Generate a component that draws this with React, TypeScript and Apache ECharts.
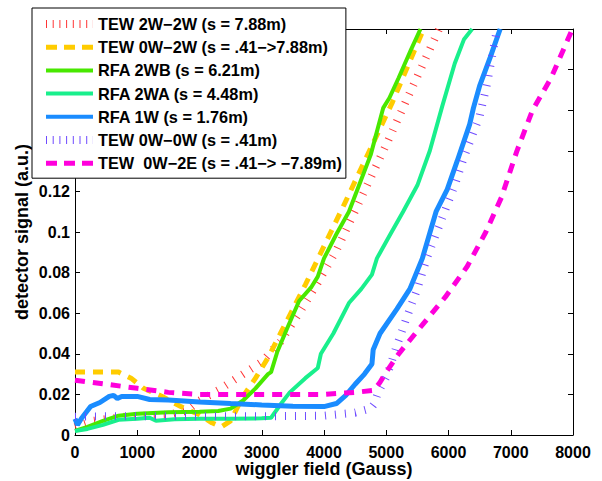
import React, { useEffect, useRef } from "react";
import * as echarts from "echarts";

const X_MIN = 0;
const X_MAX = 8000;
const X_STEP = 1000;
const Y_MIN = 0;
const Y_MAX = 0.2;
const Y_STEP = 0.02;

const xAxisTitle = "wiggler field (Gauss)";
const yAxisTitle = "detector signal (a.u.)";

const seriesNames = [
  "TEW 2W−2W (s = 7.88m)",
  "TEW 0W−2W (s = .41−>7.88m)",
  "RFA 2WB (s = 6.21m)",
  "RFA 2WA (s = 4.48m)",
  "RFA 1W (s = 1.76m)",
  "TEW 0W−0W (s = .41m)",
  "TEW  0W−2E (s = .41−> −7.89m)",
];

const tew2W2W = [
  [0, 0.004], [300, 0.007], [800, 0.009], [1500, 0.010], [1800, 0.012], [2000, 0.017],
  [2300, 0.022], [2700, 0.030], [3000, 0.036], [3300, 0.046], [3600, 0.060], [3900, 0.075],
  [4200, 0.091], [4600, 0.117], [5000, 0.143], [5400, 0.170], [5850, 0.2],
];

const tew0W2W = [
  [0, 0.031], [400, 0.031], [700, 0.031], [900, 0.028], [1100, 0.023], [1400, 0.019],
  [1700, 0.014], [2000, 0.010], [2200, 0.006], [2350, 0.004], [2500, 0.007], [2700, 0.019],
  [2900, 0.028], [3100, 0.038], [3300, 0.050], [3500, 0.062], [3700, 0.074], [4000, 0.093],
  [4300, 0.112], [4700, 0.138], [5100, 0.164], [5600, 0.2],
];

const rfa2WB = [
  [0, 0.002], [200, 0.004], [450, 0.007], [700, 0.0095], [1000, 0.0105], [1500, 0.0112],
  [2000, 0.0115], [2300, 0.0118], [2500, 0.013], [2700, 0.017], [2900, 0.023], [3100, 0.030],
  [3150, 0.031], [3250, 0.041], [3400, 0.052], [3600, 0.066], [3800, 0.073], [3900, 0.078],
  [4000, 0.087], [4200, 0.099], [4400, 0.110], [4600, 0.126], [4750, 0.138], [4950, 0.161],
  [5050, 0.166], [5200, 0.176], [5400, 0.190], [5550, 0.2],
];

const rfa2WA = [
  [0, 0.002], [200, 0.003], [450, 0.005], [700, 0.0075], [1000, 0.008], [1200, 0.0085],
  [1300, 0.007], [1600, 0.0078], [2000, 0.008], [2500, 0.008], [3000, 0.0082], [3150, 0.0085],
  [3300, 0.015], [3450, 0.021], [3700, 0.028], [3900, 0.033], [3950, 0.040], [4150, 0.050],
  [4400, 0.065], [4600, 0.072], [4770, 0.079], [4850, 0.087], [5050, 0.098], [5270, 0.110],
  [5500, 0.123], [5700, 0.140], [5900, 0.162], [6100, 0.183], [6250, 0.195], [6380, 0.2],
];

const rfa1W = [
  [0, 0.008], [40, 0.005], [100, 0.008], [250, 0.014], [400, 0.016], [550, 0.019],
  [620, 0.0195], [680, 0.018], [750, 0.019], [1000, 0.019], [1200, 0.0175], [1500, 0.0172],
  [2000, 0.0163], [2500, 0.0155], [3000, 0.0148], [3500, 0.0142], [4000, 0.014], [4200, 0.0155],
  [4350, 0.0195], [4500, 0.025], [4650, 0.030], [4770, 0.035], [4790, 0.042], [4900, 0.050],
  [5170, 0.062], [5380, 0.072], [5580, 0.087], [5800, 0.110], [5980, 0.121], [6140, 0.135],
  [6340, 0.153], [6400, 0.161], [6500, 0.172], [6670, 0.186], [6830, 0.2],
];

const tew0W0W = [
  [0, 0.009], [500, 0.0092], [1000, 0.0092], [2000, 0.0092], [3000, 0.0092], [4000, 0.0095],
  [4500, 0.011], [4750, 0.013], [4800, 0.015], [4870, 0.021], [5010, 0.029], [5170, 0.044],
  [5330, 0.058], [5500, 0.072], [5650, 0.087], [5900, 0.107], [6100, 0.123], [6250, 0.137],
  [6500, 0.157], [6620, 0.173], [6720, 0.19], [6780, 0.2],
];

const tew0W2E = [
  [0, 0.027], [500, 0.025], [1000, 0.023], [1500, 0.021], [2000, 0.020], [3000, 0.020],
  [4000, 0.020], [4500, 0.021], [4800, 0.022], [4900, 0.026], [5000, 0.031], [5200, 0.040],
  [5600, 0.055], [5950, 0.068], [6300, 0.083], [6600, 0.100], [6850, 0.117], [7100, 0.140],
  [7350, 0.160], [7650, 0.176], [7990, 0.2],
];

const seriesData = [tew2W2W, tew0W2W, rfa2WB, rfa2WA, rfa1W, tew0W0W, tew0W2E];

const FONT = "'Liberation Sans', Arial, Helvetica, sans-serif";

const lineStyles = [
  { color: "#ff3535", width: 8, type: [1, 9], cap: "butt" },
  { color: "#ffcc00", width: 5, type: [10, 8], cap: "butt" },
  { color: "#48e800", width: 4, type: "solid" },
  { color: "#19ef8c", width: 4, type: "solid" },
  { color: "#1a8cff", width: 5, type: "solid" },
  { color: "#6f4bff", width: 8, type: [1, 9], cap: "butt" },
  { color: "#ff00dc", width: 5, type: [10, 8], cap: "butt" },
];

const legendLineStyles = [
  { width: 8, type: [1, 5.7], cap: "butt" },
  { width: 5, type: [11, 7], cap: "butt" },
  { width: 4, type: "solid" },
  { width: 4, type: "solid" },
  { width: 4, type: "solid" },
  { width: 8, type: [1, 5.7], cap: "butt" },
  { width: 5, type: [11, 7], cap: "butt" },
];

export default function App() {
  const ref = useRef<HTMLDivElement>(null);

  useEffect(() => {
    if (!ref.current) return;
    const chart = echarts.init(ref.current, null, { renderer: "svg" });

    const axisLabelStyle = {
      fontFamily: FONT,
      fontWeight: "bold",
      fontSize: 16,
      color: "#000",
    };

    const commonAxis = {
      axisLine: { show: true, onZero: false, lineStyle: { color: "#000", width: 1 } },
      axisTick: { show: true, inside: true, length: 5, lineStyle: { color: "#000", width: 1 } },
      splitLine: { show: false },
    };

    chart.setOption({
      animation: false,
      backgroundColor: "#fff",
      grid: {
        left: 75,
        right: 29,
        top: 29,
        bottom: 46,
        containLabel: false,
        outerBoundsMode: "none",
      },
      xAxis: [
        {
          type: "value",
          min: X_MIN,
          max: X_MAX,
          interval: X_STEP,
          position: "bottom",
          ...commonAxis,
          axisLabel: { ...axisLabelStyle, margin: 9, formatter: (v: number) => String(v) },
          name: xAxisTitle,
          nameLocation: "middle",
          nameGap: 25,
          nameMoveOverlap: false,
          nameTextStyle: { fontFamily: FONT, fontWeight: "bold", fontSize: 18, color: "#000" },
        },
        {
          type: "value",
          min: X_MIN,
          max: X_MAX,
          interval: X_STEP,
          position: "top",
          ...commonAxis,
          axisLabel: { show: false },
        },
      ],
      yAxis: [
        {
          type: "value",
          min: Y_MIN,
          max: Y_MAX,
          interval: Y_STEP,
          position: "left",
          ...commonAxis,
          axisLabel: {
            ...axisLabelStyle,
            margin: 5,
            formatter: (v: number) => String(parseFloat(v.toFixed(2))),
          },
          name: yAxisTitle,
          nameLocation: "middle",
          nameGap: 44,
          nameMoveOverlap: false,
          nameTextStyle: { fontFamily: FONT, fontWeight: "bold", fontSize: 18, color: "#000" },
        },
        {
          type: "value",
          min: Y_MIN,
          max: Y_MAX,
          interval: Y_STEP,
          position: "right",
          ...commonAxis,
          axisLabel: { show: false },
        },
      ],
      legend: {
        orient: "vertical",
        left: 32,
        top: 8,
        padding: [8, 4, 7, 10],
        itemWidth: 47,
        itemHeight: 14,
        itemGap: 7.2,
        backgroundColor: "#fff",
        borderColor: "#000",
        borderWidth: 1,
        borderRadius: 0,
        selectedMode: false,
        textStyle: { fontFamily: FONT, fontWeight: "bold", fontSize: 16.3, color: "#000" },
        data: seriesNames.map((name, i) => ({
          name,
          lineStyle: legendLineStyles[i],
          itemStyle: { opacity: 0, borderWidth: 0 },
        })),
      },
      series: seriesNames.map((name, i) => ({
        name,
        type: "line",
        data: seriesData[i],
        showSymbol: false,
        symbol: "none",
        clip: true,
        z: 2 + i * 0.01,
        lineStyle: lineStyles[i],
        itemStyle: { color: lineStyles[i].color },
      })),
    });

    return () => chart.dispose();
  }, []);

  return (
    <div
      ref={ref}
      style={{ position: "absolute", left: 0, top: 0, width: 602, height: 481, background: "#fff" }}
    />
  );
}
